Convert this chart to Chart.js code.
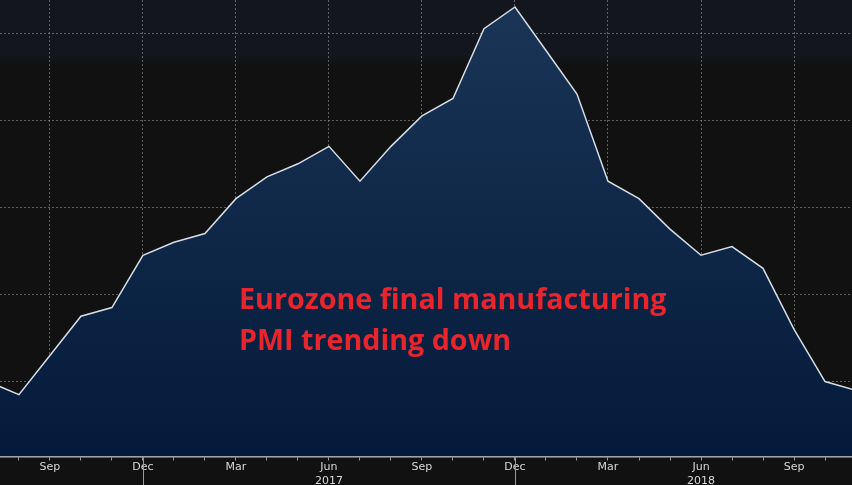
<!DOCTYPE html>
<html>
<head>
<meta charset="utf-8">
<script src="https://cdn.jsdelivr.net/npm/chart.js@4/dist/chart.umd.min.js"></script>
<style>
  html, body { margin: 0; padding: 0; background: #111111; overflow: hidden; }
  #wrap { position: relative; width: 852px; height: 485px;
    background: linear-gradient(#13171d 0px, #13171d 55px, #111111 65px); }
  #note { position: absolute; left: 239px; top: 277px; color: #e8242c;
    font: bold 28.7px "Open Sans", "DejaVu Sans", sans-serif; line-height: 41px; }
</style>
</head>
<body>
<div id="wrap">
  <canvas id="c" width="852" height="485"></canvas>
  <div id="note">Eurozone final manufacturing<br>PMI trending down</div>
</div>
<script>
// monthly, Jul 2016 .. Nov 2018
const months = ['Jul','Aug','Sep','Oct','Nov','Dec','Jan','Feb','Mar','Apr','May','Jun',
  'Jul','Aug','Sep','Oct','Nov','Dec','Jan','Feb','Mar','Apr','May','Jun',
  'Jul','Aug','Sep','Oct','Nov'];
const pmi = [52.0, 51.7, 52.6, 53.5, 53.7, 54.9, 55.2, 55.4, 56.2, 56.7, 57.0, 57.4,
  56.6, 57.4, 58.1, 58.5, 60.1, 60.6, 59.6, 58.6, 56.6, 56.2, 55.5, 54.9,
  55.1, 54.6, 53.2, 52.0, 51.8];
const yearLabels = { 11: '2017', 23: '2018' };
const yGrid = [52, 54, 56, 58, 60];

const points = pmi.map((v, i) => ({ x: i, y: v }));
const isQuarter = i => ['Sep','Dec','Mar','Jun'].includes(months[i]);

const yearTicks = {
  id: 'yearTicks',
  afterDraw(chart) {
    const ctx = chart.ctx, xs = chart.scales.x;
    ctx.save();
    ctx.strokeStyle = '#9a9a9a';
    ctx.lineWidth = 1;
    [5, 17].forEach(i => {
      const px = Math.round(xs.getPixelForValue(i)) + 0.5;
      ctx.beginPath();
      ctx.moveTo(px, chart.chartArea.bottom);
      ctx.lineTo(px, 485);
      ctx.stroke();
    });
    ctx.restore();
  }
};

new Chart(document.getElementById('c'), {
  type: 'line',
  data: {
    datasets: [{
      data: points,
      borderColor: '#d6dde6',
      borderWidth: 1.5,
      pointRadius: 0,
      tension: 0,
      fill: 'start',
      backgroundColor: (ctx) => {
        const a = ctx.chart.chartArea;
        if (!a) return '#0b2142';
        const g = ctx.chart.ctx.createLinearGradient(0, a.top, 0, a.bottom);
        g.addColorStop(0, '#1a3556');
        g.addColorStop(1, '#041a3a');
        return g;
      }
    }]
  },
  options: {
    responsive: false,
    animation: false,
    layout: { padding: { left: 0, right: 0, top: 0, bottom: -3 } },
    plugins: { legend: { display: false }, tooltip: { enabled: false } },
    scales: {
      x: {
        type: 'linear',
        min: 0.39,
        max: 27.87,
        afterBuildTicks: (s) => {
          s.ticks = months.map((m, i) => ({ value: i })).filter(t => t.value >= 1 && t.value <= 27);
        },
        afterFit: (s) => { s.paddingLeft = 0; s.paddingRight = 0; },
        ticks: {
          autoSkip: false,
          maxRotation: 0,
          color: '#d8d8d8',
          font: { family: 'DejaVu Sans', size: 11, lineHeight: 1.25 },
          padding: 0,
          callback: (v) => isQuarter(v) ? (yearLabels[v] ? [months[v], yearLabels[v]] : months[v]) : ''
        },
        grid: {
          color: (c) => isQuarter(c.tick.value) ? 'rgba(150,150,150,0.6)' : 'rgba(0,0,0,0)',
          tickColor: '#9a9a9a',
          tickBorderDash: [],
          tickLength: 4,
          lineWidth: 1
        },
        border: { display: true, color: '#b8b8b8', width: 1.5, dash: [2, 2] }
      },
      y: {
        min: 50.28,
        max: 60.76,
        afterBuildTicks: (s) => { s.ticks = yGrid.map(v => ({ value: v })); },
        afterFit: (s) => { s.width = 0; },
        ticks: { display: false },
        grid: { color: 'rgba(150,150,150,0.6)', drawTicks: false },
        border: { display: false, dash: [2, 2] }
      }
    }
  },
  plugins: [yearTicks]
});
</script>
</body>
</html>
